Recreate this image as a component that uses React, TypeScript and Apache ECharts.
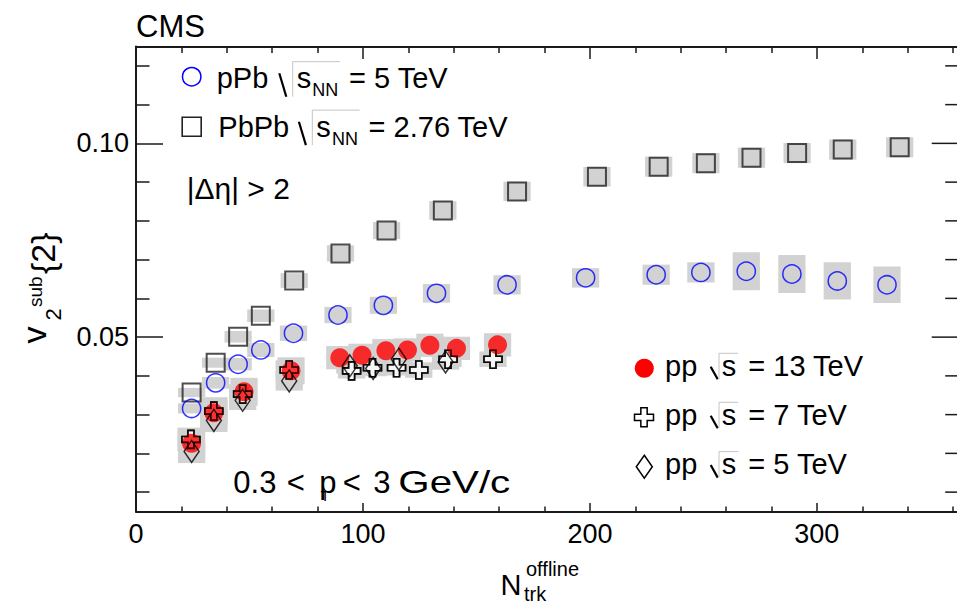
import React, { useEffect, useRef } from 'react';
import * as echarts from 'echarts';

const FONT = '"Liberation Sans", Arial, Helvetica, sans-serif';

// Axis ranges and tick positions
const X_MIN = 0;
const X_MAX = 371;
const FRAME_RIGHT = 362.5; // right edge of the plot frame, just past the visible area
const Y_MIN = 0.005;
const Y_MAX = 0.125;
const xLabelValues = [0, 100, 200, 300];
const xMajorTicks = [100, 200, 300];
const xMinorTicks = [20, 40, 60, 80, 120, 140, 160, 180, 220, 240, 260, 280, 320, 340, 360];
const yLabelValues = [0.05, 0.1];
const yMinorTicks = [0.01, 0.02, 0.03, 0.04, 0.06, 0.07, 0.08, 0.09, 0.11, 0.12];

// pPb, sqrt(s_NN) = 5 TeV
const pPbN = [24.5, 35.1, 45.0, 55.0, 69.4, 89.0, 109.0, 132.4, 163.5, 198.1, 229.2, 248.9, 268.9, 289.0, 309.0, 330.9];
const pPbV = [0.0316, 0.0382, 0.043, 0.0467, 0.051, 0.0557, 0.0582, 0.0613, 0.0635, 0.0653, 0.0661, 0.0667, 0.067, 0.0663, 0.0645, 0.0635];
const pPbSys = [0.0013, 0.0015, 0.0016, 0.0018, 0.002, 0.0021, 0.0022, 0.0024, 0.0025, 0.0025, 0.0026, 0.0026, 0.0049, 0.0049, 0.0048, 0.0047];

// PbPb, sqrt(s_NN) = 2.76 TeV
const PbPbN = [24.5, 35.1, 45.0, 55.0, 69.7, 90.1, 110.4, 135.2, 167.9, 203.1, 230.3, 251.1, 271.2, 291.3, 311.4, 336.5];
const PbPbV = [0.0357, 0.0434, 0.0501, 0.0555, 0.0646, 0.0716, 0.0775, 0.0827, 0.0876, 0.0914, 0.094, 0.0949, 0.0963, 0.0975, 0.0984, 0.099];
const PbPbSys = [0.0012, 0.0013, 0.0015, 0.0016, 0.0019, 0.0021, 0.0022, 0.0024, 0.0025, 0.0025, 0.0026, 0.0026, 0.0026, 0.0026, 0.0026, 0.0026];

// pp, sqrt(s) = 13 TeV
const pp13N = [24.5, 34.3, 47.6, 68.3, 89.8, 99.6, 110.1, 119.6, 129.5, 141.2, 159.3];
const pp13V = [0.0226, 0.0305, 0.0359, 0.0413, 0.0447, 0.0453, 0.0465, 0.0467, 0.0479, 0.0471, 0.048];
const pp13Sys = [0.004, 0.004, 0.0036, 0.0035, 0.003, 0.003, 0.003, 0.003, 0.003, 0.003, 0.003];

// pp, sqrt(s) = 7 TeV
const pp7N = [24.2, 34.3, 47.0, 67.5, 95.0, 104.2, 114.8, 124.6, 137.5, 157.3];
const pp7V = [0.0236, 0.0309, 0.0353, 0.0415, 0.0413, 0.0421, 0.0421, 0.0415, 0.0443, 0.0443];
const pp7Sys = [0.003, 0.003, 0.0025, 0.0025, 0.002, 0.002, 0.002, 0.002, 0.002, 0.002];

// pp, sqrt(s) = 5 TeV
const pp5N = [24.5, 34.3, 47.0, 67.5, 94.2, 104.5, 115.8, 136.4];
const pp5V = [0.0205, 0.0285, 0.0337, 0.0387, 0.0426, 0.0419, 0.0443, 0.0436];
const pp5Sys = [0.003, 0.003, 0.0025, 0.0025, 0.002, 0.002, 0.002, 0.002];

const BOX_HALF_WIDTH = 6; // half width of systematic boxes in N units
const BOX_COLOR = '#d2d2d2';
const CROSS_PATH = 'path://M1 0H2V1H3V2H2V3H1V2H0V1H1Z';
const MAJOR_TICK_PX = 27;
const MINOR_TICK_PX = 13.5;

const points = (n: number[], v: number[]) => n.map((x, i) => [x, v[i]]);
const boxes = (n: number[], v: number[], s: number[]) => n.map((x, i) => [x, v[i], s[i]]);

const boxSeries = (data: number[][]) => ({
  type: 'custom',
  silent: true,
  data,
  renderItem: (_p: any, api: any) => {
    const x = api.value(0);
    const y = api.value(1);
    const s = api.value(2);
    const a = api.coord([x - BOX_HALF_WIDTH, y + s]);
    const b = api.coord([x + BOX_HALF_WIDTH, y - s]);
    return {
      type: 'rect',
      shape: { x: a[0], y: a[1], width: b[0] - a[0], height: b[1] - a[1] },
      style: { fill: BOX_COLOR },
    };
  },
});

// inward ticks along the right frame edge
const rightTickSeries = () => ({
  type: 'custom',
  silent: true,
  clip: false,
  data: [
    ...yLabelValues.map((v) => [FRAME_RIGHT, v, MAJOR_TICK_PX]),
    ...yMinorTicks.map((v) => [FRAME_RIGHT, v, MINOR_TICK_PX]),
  ],
  renderItem: (_p: any, api: any) => {
    const pt = api.coord([api.value(0), api.value(1)]);
    const len = api.value(2);
    return {
      type: 'line',
      shape: { x1: pt[0] - len, y1: pt[1], x2: pt[0], y2: pt[1] },
      style: { stroke: '#1a1a1a', lineWidth: 1.5 },
    };
  },
});

const markerSeries = (data: number[][], symbol: string, size: any, itemStyle: any) => ({
  type: 'scatter',
  silent: true,
  data,
  symbol,
  symbolSize: size,
  itemStyle,
  emphasis: { disabled: true },
});

const txt = (text: string, x: number, base: number, size: number, extra: any = {}) => ({
  type: 'text',
  x,
  y: base - 0.347 * size,
  silent: true,
  ...extra,
  style: {
    text,
    font: `${size}px ${FONT}`,
    fill: '#000',
    align: 'left',
    verticalAlign: 'middle',
    textAlign: 'left',
    textVerticalAlign: 'middle',
  },
});

// text read bottom-to-top, placed by its baseline x and start y
const rtxt = (text: string, baseX: number, startY: number, size: number) => ({
  type: 'text',
  x: baseX - 0.347 * size,
  y: startY,
  rotation: Math.PI / 2,
  silent: true,
  style: {
    text,
    font: `${size}px ${FONT}`,
    fill: '#000',
    align: 'left',
    verticalAlign: 'middle',
    textAlign: 'left',
    textVerticalAlign: 'middle',
  },
});

// ROOT-style square root: short dark stroke, thin rising bar and overline
const sqrtSign = (x0: number, yTick: number, yBase: number, xBar: number, yTop: number, xEnd: number) => [
  {
    type: 'line',
    silent: true,
    shape: { x1: x0, y1: yTick, x2: x0 + 7, y2: yBase },
    style: { stroke: '#000', lineWidth: 2.2 },
  },
  {
    type: 'polyline',
    silent: true,
    shape: { points: [[xBar, yBase], [xBar, yTop], [xEnd, yTop]] },
    style: { stroke: '#c4c4c4', lineWidth: 1, fill: 'none' },
  },
];

const crossPoints = (cx: number, cy: number, s: number) => {
  const a = s / 2;
  const b = s / 6;
  return [
    [cx - b, cy - a], [cx + b, cy - a], [cx + b, cy - b], [cx + a, cy - b], [cx + a, cy + b], [cx + b, cy + b],
    [cx + b, cy + a], [cx - b, cy + a], [cx - b, cy + b], [cx - a, cy + b], [cx - a, cy - b], [cx - b, cy - b],
  ];
};

const tickStyle = { color: '#1a1a1a', width: 1.5 };
const frameStyle = { color: '#1a1a1a', width: 2 };

function buildOption() {
  const hidden = {
    splitLine: { show: false },
    axisLabel: { show: false },
    axisTick: { show: false },
    axisLine: { show: false, onZero: false },
  };
  const xBase = { type: 'value', min: X_MIN, max: X_MAX, ...hidden };
  const yBase = { type: 'value', min: Y_MIN, max: Y_MAX, ...hidden };

  const xAxis = [
    {
      ...xBase,
      position: 'bottom',
      axisLine: { show: true, onZero: false, lineStyle: frameStyle },
      axisTick: { show: true, inside: true, length: 8.5, customValues: xMajorTicks, lineStyle: tickStyle },
      axisLabel: {
        show: true,
        customValues: xLabelValues,
        fontSize: 27,
        fontFamily: FONT,
        color: '#000',
        margin: 9,
      },
    },
    { ...xBase, position: 'bottom', axisTick: { show: true, inside: true, length: 5, customValues: xMinorTicks, lineStyle: tickStyle } },
    {
      ...xBase,
      position: 'top',
      axisLine: { show: true, onZero: false, lineStyle: frameStyle },
      axisTick: { show: true, inside: true, length: 12.5, customValues: xMajorTicks, lineStyle: tickStyle },
    },
    { ...xBase, position: 'top', axisTick: { show: true, inside: true, length: 6.5, customValues: xMinorTicks, lineStyle: tickStyle } },
  ];

  const yAxis = [
    {
      ...yBase,
      position: 'left',
      axisLine: { show: true, onZero: false, lineStyle: frameStyle },
      axisTick: { show: true, inside: true, length: MAJOR_TICK_PX, customValues: yLabelValues, lineStyle: tickStyle },
      axisLabel: {
        show: true,
        customValues: yLabelValues,
        formatter: (v: number) => v.toFixed(2),
        fontSize: 27,
        fontFamily: FONT,
        color: '#000',
        margin: 7,
      },
    },
    { ...yBase, position: 'left', axisTick: { show: true, inside: true, length: MINOR_TICK_PX, customValues: yMinorTicks, lineStyle: tickStyle } },
  ];

  const series = [
    rightTickSeries(),
    boxSeries(boxes(PbPbN, PbPbV, PbPbSys)),
    boxSeries(boxes(pPbN, pPbV, pPbSys)),
    boxSeries(boxes(pp13N, pp13V, pp13Sys)),
    boxSeries(boxes(pp7N, pp7V, pp7Sys)),
    boxSeries(boxes(pp5N, pp5V, pp5Sys)),
    markerSeries(points(PbPbN, PbPbV), 'rect', 18, { color: 'rgba(0,0,0,0)', borderColor: '#222', borderWidth: 2 }),
    markerSeries(points(pPbN, pPbV), 'circle', 18.2, { color: 'rgba(0,0,0,0)', borderColor: '#0000ff', borderWidth: 1.5 }),
    markerSeries(points(pp7N, pp7V), CROSS_PATH, 18, { color: '#ffffff', borderColor: '#000', borderWidth: 1.6 }),
    markerSeries(points(pp13N, pp13V), 'circle', 19, { color: '#ff0000' }),
    markerSeries(points(pp7N, pp7V), CROSS_PATH, 18, { color: 'rgba(0,0,0,0)', borderColor: '#000', borderWidth: 1.6 }),
    markerSeries(points(pp5N, pp5V), 'diamond', [15, 22], { color: 'rgba(0,0,0,0)', borderColor: '#000', borderWidth: 1.5 }),
  ];

  const graphic: any[] = [
    txt('CMS', 136, 37.7, 31),

    // legend, upper left
    { type: 'circle', silent: true, shape: { cx: 191.7, cy: 76.7, r: 9.2 }, style: { fill: 'none', stroke: '#0000ff', lineWidth: 1.5 } },
    txt('pPb', 216.7, 88.3, 29),
    ...sqrtSign(279.3, 73.3, 96.7, 292.7, 61.7, 340),
    txt('s', 296.7, 88.3, 29),
    txt('NN', 312.3, 96.7, 18),
    txt('= 5 TeV', 349, 88.3, 29),

    { type: 'rect', silent: true, shape: { x: 182.2, y: 117.2, width: 19, height: 19 }, style: { fill: 'none', stroke: '#222', lineWidth: 1.6 } },
    txt('PbPb', 218.3, 136.7, 29),
    ...sqrtSign(298.9, 121.7, 145.1, 312.3, 110.1, 359.6),
    txt('s', 316.3, 136.7, 29),
    txt('NN', 331.9, 145.1, 18),
    txt('= 2.76 TeV', 368.6, 136.7, 29),

    txt('|Δη| > 2', 186.7, 198.5, 30),

    // legend, lower right
    { type: 'circle', silent: true, shape: { cx: 644.3, cy: 368.3, r: 9.5 }, style: { fill: '#ff0000' } },
    txt('pp', 665, 376, 29),
    ...sqrtSign(710.7, 366.7, 379.3, 719, 353.3, 738.3),
    txt('s', 721.7, 376, 29),
    txt('= 13 TeV', 748.3, 376, 29),

    { type: 'polygon', silent: true, shape: { points: crossPoints(644, 417.3, 19) }, style: { fill: '#fff', stroke: '#000', lineWidth: 1.5 } },
    txt('pp', 665, 425, 29),
    ...sqrtSign(710.7, 415.7, 428.3, 719, 402.3, 738.3),
    txt('s', 721.7, 425, 29),
    txt('= 7 TeV', 748.3, 425, 29),

    {
      type: 'polygon',
      silent: true,
      shape: { points: [[644.3, 455.2], [652.3, 466.7], [644.3, 478.2], [636.3, 466.7]] },
      style: { fill: 'none', stroke: '#000', lineWidth: 1.5 },
    },
    txt('pp', 665, 474.3, 29),
    ...sqrtSign(710.7, 465, 477.6, 719, 451.6, 738.3),
    txt('s', 721.7, 474.3, 29),
    txt('= 5 TeV', 748.3, 474.3, 29),

    // kinematic range
    txt('0.3', 233.3, 493, 31),
    txt('<', 286.7, 493, 31),
    txt('p', 319.3, 493, 31),
    txt('T', 320.5, 501, 15),
    txt('<', 342.7, 493, 31),
    txt('3', 373.3, 493, 31),
    txt('GeV/c', 398.3, 493, 31, { scaleX: 1.3 }),

    // y-axis title
    rtxt('v', 45.5, 343.5, 34),
    rtxt('2', 61.5, 320.5, 22),
    rtxt('sub', 42, 307, 19),
    rtxt('{2}', 55, 274, 34),

    // x-axis title
    txt('N', 500.5, 595, 29),
    txt('offline', 526, 576, 20),
    txt('trk', 524, 601, 20),
  ];

  return {
    animation: false,
    backgroundColor: '#ffffff',
    grid: { left: 136, top: 46.5, width: 842, height: 465, containLabel: false, outerBoundsMode: 'none' },
    xAxis,
    yAxis,
    series,
    graphic,
  };
}

export default function App() {
  const ref = useRef<HTMLDivElement>(null);
  useEffect(() => {
    const chart = echarts.init(ref.current as HTMLDivElement, null, { renderer: 'svg' });
    chart.setOption(buildOption() as any);
    return () => chart.dispose();
  }, []);
  // the plot frame continues past the right edge of the visible area
  return (
    <div style={{ position: 'absolute', left: 0, top: 0, width: 957, height: 604, overflow: 'hidden', background: '#fff' }}>
      <div ref={ref} style={{ width: 990, height: 604 }} />
    </div>
  );
}
